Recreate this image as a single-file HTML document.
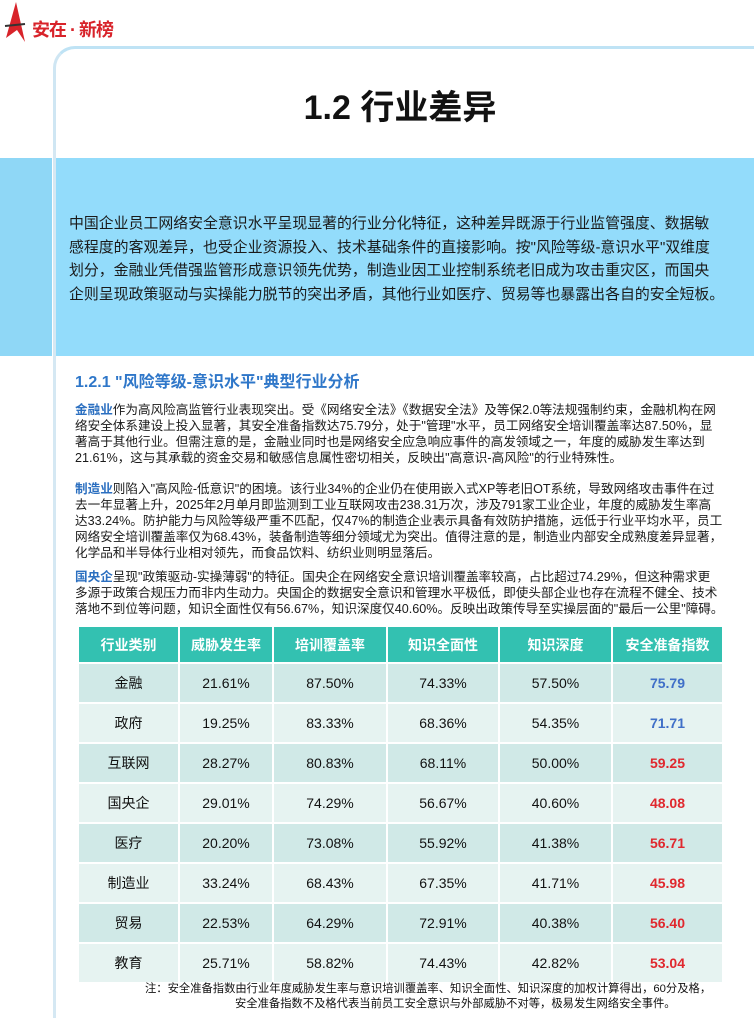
<!DOCTYPE html>
<html><head><meta charset="utf-8">
<style>
*{margin:0;padding:0;box-sizing:border-box}
body{width:754px;height:1018px;background:#fff;position:relative;overflow:hidden;font-family:"Liberation Sans","Noto Sans CJK SC",sans-serif;color:#111}
.abs{position:absolute}
.p{position:absolute;left:75px;font-size:12.6px;line-height:16px;white-space:nowrap;color:#1a1a1a}
.hl{color:#2b6fc0;font-weight:bold}
table{position:absolute;left:77px;top:627px;width:645px;border-collapse:separate;border-spacing:2px 0;table-layout:fixed}
td,th{text-align:center;font-size:14px;height:40px}
th{background:#33c1b1;color:#fff;font-weight:bold;height:35px;font-size:14px}
tr.o td{background:#d0e9e7}
tr.e td{background:#e6f3f1}
tr td{border-top:2px solid #fff}
</style></head><body>
<div class="abs" style="left:4px;top:2px;width:120px;height:50px">
<svg width="24" height="44"><path d="M12 0 L21 40 L13 28 L2 36 Z" fill="#d8232a"/><path d="M1 24 L21 22" stroke="#333" stroke-width="2"/></svg>
<span class="abs" style="left:28px;top:14px;font-size:18px;font-weight:bold;color:#d8232a;letter-spacing:-1px">安在 · 新榜</span>
</div>
<div class="abs" style="left:53px;top:46px;width:701px;height:120px;border-top:3px solid #bfe3f5;border-left:3px solid #cfe6f3;border-top-left-radius:22px"></div>
<div class="abs" style="left:53px;top:150px;width:3px;height:868px;background:#d5e8f3"></div>
<h1 class="abs" style="left:0;width:800px;top:80px;text-align:center;font-size:34px;font-weight:bold;color:#111">1.2 行业差异</h1>
<div class="abs" style="left:0;top:158px;width:52px;height:198px;background:#8fd7f6"></div>
<div class="abs" style="left:56px;top:158px;width:698px;height:198px;background:#93dcfb"></div>
<div class="p" style="left:69px;top:213px;font-size:14.9px;line-height:23.5px">中国企业员工网络安全意识水平呈现显著的行业分化特征，这种差异既源于行业监管强度、数据敏<br>感程度的客观差异，也受企业资源投入、技术基础条件的直接影响。按"风险等级-意识水平"双维度<br>划分，金融业凭借强监管形成意识领先优势，制造业因工业控制系统老旧成为攻击重灾区，而国央<br>企则呈现政策驱动与实操能力脱节的突出矛盾，其他行业如医疗、贸易等也暴露出各自的安全短板。</div>
<h2 class="abs" style="left:75px;top:368px;font-size:16px;font-weight:bold;color:#2f77c9">1.2.1 "风险等级-意识水平"典型行业分析</h2>
<div class="p" style="top:402px"><span class="hl">金融业</span>作为高风险高监管行业表现突出。受《网络安全法》《数据安全法》及等保2.0等法规强制约束，金融机构在网<br>络安全体系建设上投入显著，其安全准备指数达75.79分，处于"管理"水平，员工网络安全培训覆盖率达87.50%，显<br>著高于其他行业。但需注意的是，金融业同时也是网络安全应急响应事件的高发领域之一，年度的威胁发生率达到<br>21.61%，这与其承载的资金交易和敏感信息属性密切相关，反映出"高意识-高风险"的行业特殊性。</div>
<div class="p" style="top:481px"><span class="hl">制造业</span>则陷入"高风险-低意识"的困境。该行业34%的企业仍在使用嵌入式XP等老旧OT系统，导致网络攻击事件在过<br>去一年显著上升，2025年2月单月即监测到工业互联网攻击238.31万次，涉及791家工业企业，年度的威胁发生率高<br>达33.24%。防护能力与风险等级严重不匹配，仅47%的制造企业表示具备有效防护措施，远低于行业平均水平，员工<br>网络安全培训覆盖率仅为68.43%，装备制造等细分领域尤为突出。值得注意的是，制造业内部安全成熟度差异显著，<br>化学品和半导体行业相对领先，而食品饮料、纺织业则明显落后。</div>
<div class="p" style="top:569px"><span class="hl">国央企</span>呈现"政策驱动-实操薄弱"的特征。国央企在网络安全意识培训覆盖率较高，占比超过74.29%，但这种需求更<br>多源于政策合规压力而非内生动力。央国企的数据安全意识和管理水平极低，即使头部企业也存在流程不健全、技术<br>落地不到位等问题，知识全面性仅有56.67%，知识深度仅40.60%。反映出政策传导至实操层面的"最后一公里"障碍。</div>
<table id="tbl"><colgroup><col style="width:99px"><col style="width:92px"><col style="width:112px"><col style="width:110px"><col style="width:111px"><col style="width:109px"></colgroup><thead><tr id="hdr"></tr></thead><tbody id="tb"></tbody></table>
<div class="abs" style="left:145px;top:982px;font-size:11.3px;line-height:15px;color:#111;white-space:nowrap">注：安全准备指数由行业年度威胁发生率与意识培训覆盖率、知识全面性、知识深度的加权计算得出，60分及格，<br><span style="padding-left:90px">安全准备指数不及格代表当前员工安全意识与外部威胁不对等，极易发生网络安全事件。</span></div>
<script>
const headers=["行业类别","威胁发生率","培训覆盖率","知识全面性","知识深度","安全准备指数"];
const industries=["金融","政府","互联网","国央企","医疗","制造业","贸易","教育"];
const threat=["21.61%","19.25%","28.27%","29.01%","20.20%","33.24%","22.53%","25.71%"];
const training=["87.50%","83.33%","80.83%","74.29%","73.08%","68.43%","64.29%","58.82%"];
const breadth=["74.33%","68.36%","68.11%","56.67%","55.92%","67.35%","72.91%","74.43%"];
const depth=["57.50%","54.35%","50.00%","40.60%","41.38%","41.71%","40.38%","42.82%"];
const index=[75.79,71.71,59.25,48.08,56.71,45.98,56.40,53.04];
const hdr=document.getElementById('hdr');
headers.forEach(h=>{const th=document.createElement('th');th.textContent=h;


hdr.appendChild(th);});
const tb=document.getElementById('tb');
industries.forEach((n,i)=>{const tr=document.createElement('tr');tr.className=i%2?'e':'o';


[n,threat[i],training[i],breadth[i],depth[i],index[i].toFixed(2)].forEach((v,j)=>{const td=document.createElement('td');td.textContent=v;


if(j==5){td.style.fontWeight='bold';td.style.color=index[i]>=60?'#3f6fc8':'#e0282e';}
tr.appendChild(td);});tb.appendChild(tr);});
</script>
</body></html>
